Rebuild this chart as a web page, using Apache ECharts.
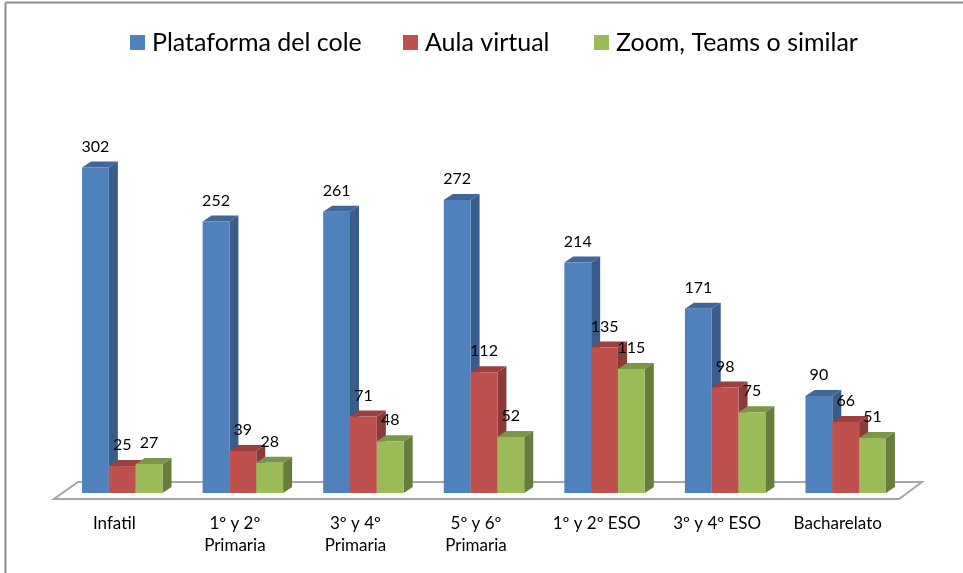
<!DOCTYPE html>
<html>
<head>
<meta charset="utf-8">
<script src="https://cdn.jsdelivr.net/npm/echarts@6/dist/echarts.min.js"></script>
<style>
  html, body { margin: 0; padding: 0; background: #fff; }
  #main { width: 963px; height: 573px; }
</style>
</head>
<body>
<div id="main"></div>
<script>
var categories = ['Infatil', '1º y 2º\nPrimaria', '3º y 4º\nPrimaria', '5º y 6º\nPrimaria', '1º y 2º ESO', '3º y 4º ESO', 'Bacharelato'];
var plataforma = [302, 252, 261, 272, 214, 171, 90];
var aula = [25, 39, 71, 112, 135, 98, 66];
var zoomTeams = [27, 28, 48, 52, 115, 75, 51];

var myChart = echarts.init(document.getElementById('main'));

// 3d look: every bar is a front face plus a top and a side face
var depthX = 9, depthY = 6, shiftX = 8, barShare = 0.2225;

function bar3d(index, front, top, side) {
  return function (params, api) {
    var cat = api.value(0);
    var val = api.value(1);
    var base = api.coord([cat, 0]);
    var head = api.coord([cat, val]);
    var w = api.size([1, 0])[0] * barShare;
    var x0 = base[0] + shiftX + (index - 1.5) * w;
    var x1 = x0 + w;
    var y0 = head[1], y1 = base[1];
    return {
      type: 'group',
      children: [
        { type: 'polygon', shape: { points: [[x1, y0], [x1 + depthX, y0 - depthY], [x1 + depthX, y1 - depthY], [x1, y1]] }, style: { fill: side } },
        { type: 'polygon', shape: { points: [[x0, y0], [x0 + depthX, y0 - depthY], [x1 + depthX, y0 - depthY], [x1, y0]] }, style: { fill: top } },
        { type: 'rect', shape: { x: x0, y: y0, width: w, height: y1 - y0 }, style: { fill: front } },
        {
          type: 'text', z2: 100,
          style: {
            text: String(val), x: x0 + w / 2, y: y0 - 21,
            align: 'center', verticalAlign: 'middle',
            font: '16px Lato', fill: '#000'
          }
        }
      ]
    };
  };
}

function barSeries(name, values, index, front, top, side) {
  return {
    name: name,
    type: 'custom',
    z: 3,
    itemStyle: { color: front },
    renderItem: bar3d(index, front, top, side),
    encode: { x: 0, y: 1 },
    data: values.map(function (v, i) { return [i, v]; })
  };
}

// floor plate under the bars, taken from the grid rect
function floor(params, api) {
  var c = params.coordSys;
  var yb = c.y + c.height;
  return {
    type: 'polygon',
    shape: { points: [[c.x, yb + 6], [c.x + c.width + 1, yb + 6], [c.x + c.width + 24, yb - 11], [c.x + 24, yb - 11]] },
    style: { fill: '#fff', stroke: '#a6a6a6', lineWidth: 2 }
  };
}

// the gaps between the legend items are not even, so one legend per item
function legendItem(name, left) {
  return {
    left: left, top: 25,
    icon: 'rect',
    itemWidth: 15, itemHeight: 15,
    selectedMode: false,
    textStyle: { fontSize: 25, fontFamily: 'Lato', color: '#000', padding: [0, 0, 0, 2] },
    data: [name]
  };
}

var option = {
  animation: false,
  backgroundColor: '#fff',
  textStyle: { fontFamily: 'Lato' },
  legend: [
    legendItem('Plataforma del cole', 125),
    legendItem('Aula virtual', 398),
    legendItem('Zoom, Teams o similar', 589)
  ],
  grid: { left: 54, width: 844, top: 62, height: 431 },
  xAxis: {
    type: 'category',
    data: categories,
    axisLine: { show: false },
    axisTick: { show: false },
    axisLabel: { margin: 20, interval: 0, fontSize: 17, lineHeight: 22, color: '#000', fontFamily: 'Lato' }
  },
  yAxis: { type: 'value', min: 0, max: 400, show: false },
  graphic: [
    { type: 'line', shape: { x1: 5.5, y1: 2.5, x2: 963, y2: 2.5 }, style: { stroke: '#8c8c8c', lineWidth: 2 } },
    { type: 'line', shape: { x1: 5.5, y1: 2.5, x2: 5.5, y2: 573 }, style: { stroke: '#8c8c8c', lineWidth: 2 } }
  ],
  series: [
    { type: 'custom', z: 1, silent: true, renderItem: floor, data: [[0, 0]], encode: { x: 0, y: 1 } },
    barSeries('Plataforma del cole', plataforma, 0, '#4f81bd', '#3f6797', '#385d8a'),
    barSeries('Aula virtual', aula, 1, '#c0504d', '#9a403e', '#8a3a38'),
    barSeries('Zoom, Teams o similar', zoomTeams, 2, '#9bbb59', '#7c9647', '#677d3b')
  ]
};
option && myChart.setOption(option);
</script>
</body>
</html>
